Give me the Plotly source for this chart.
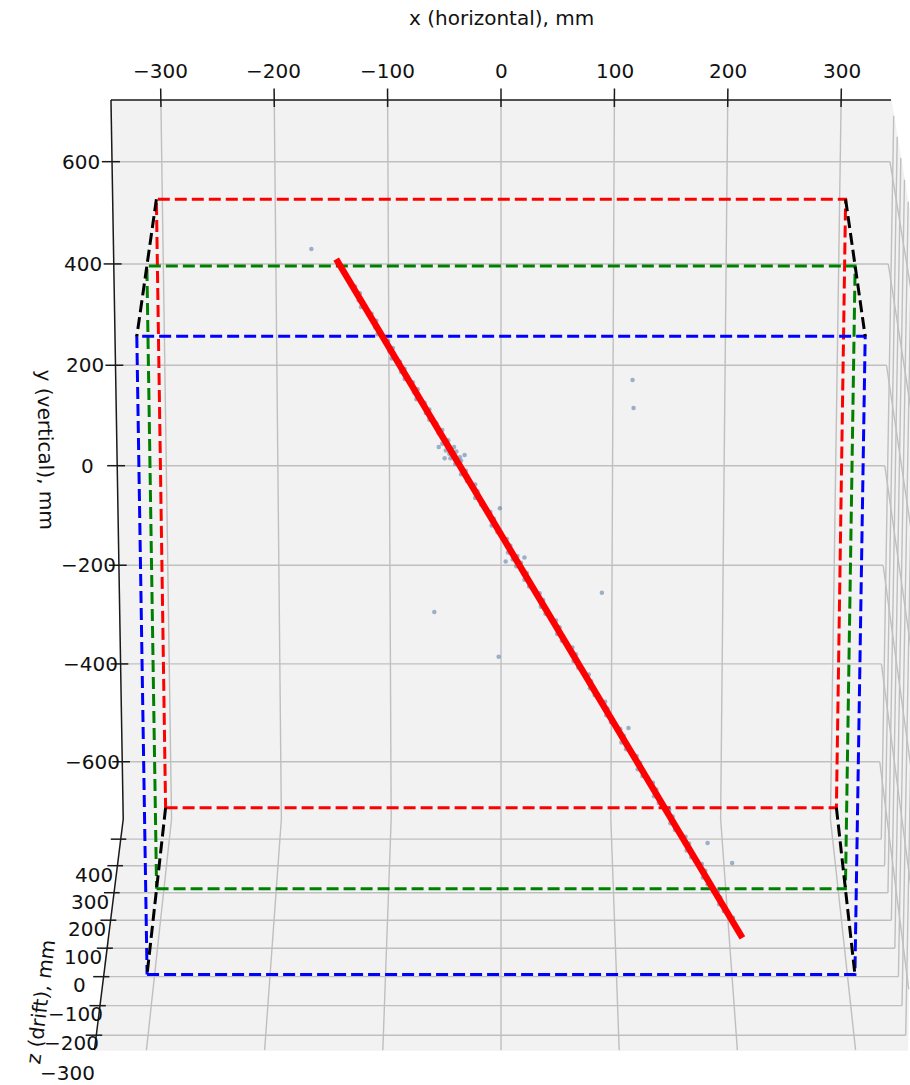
import numpy as np
import plotly.graph_objects as go

# ---------------- data ----------------
X_TICKS = [-300, -200, -100, 0, 100, 200, 300]
Y_TICKS = [-600, -400, -200, 0, 200, 400, 600]
Z_TICKS = [-300, -200, -100, 0, 100, 200, 300, 400]

X_LIM = (-344.0, 344.0)
Y_LIM = (-718.0, 720.0)
Z_LIM = (-350.0, 477.0)          # near (front) .. far (back)

X_TITLE = "x (horizontal), mm"
Y_TITLE = "y (vertical), mm"
Z_TITLE = "z (drift), mm"

DET_X = (-300.0, 300.0)
DET_Y = (-600.0, 600.0)
ANODE_BACK_Z = 300.0
CATHODE_Z = 0.0
ANODE_FRONT_Z = -300.0

FIT_START = (-140.0, 600.0, 30.0)
FIT_END = (207.0, -600.0, -174.0)

HIT_X = [-124, -121, -110, -107, -96, -95, -86, -85, -75, -74, -65, -64, -55, -53,
         -45, -50, -40, -47, -38, -44, -35, -43, -34, -39, -30, -29, -20, -17, -6, -3,
         8, 6, 14, 10, 17, 13, 22, 24, 36, 38, 50, 52, 64, 66, 77, 80, 91, 94, 105,
         107, 119, 121, 133, 135, 147, 149, 161, 163, 175, 177, 188, 191,
         -120, -119, -106, -105, -92, -93, -82, -82, -71, -72, -61, -61, -50,
         -34, -22, -22, -9, -8, 5, 20, 33, 34, 47, 48, 61, 62, 75, 76, 89, 90,
         102, 103, 116, 117, 130, 131, 144, 145, 158, 159, 172, 173, 186, 187, 199,
         -53, -31, -48, 20, 4,
         -161, 112, 113, -57, -2, 86, -1, 109, 177, 198]
HIT_Y = [552, 528, 504, 480, 456, 438, 420, 402, 384, 366, 348, 330, 312, 294,
         282, 276, 270, 264, 262, 258, 252, 250, 246, 240, 228, 210, 192, 168, 144, 120,
         96, 84, 78, 72, 66, 60, 48, 24, 0, -24, -48, -72, -96, -120, -144, -168, -192,
         -216, -240, -264, -288, -312, -336, -360, -384, -408, -432, -456, -480, -504,
         -528, -552,
         540, 516, 492, 468, 444, 426, 408, 390, 372, 354, 336, 318, 300,
         222, 204, 180, 156, 132, 108, 36, 12, -12, -36, -60, -84, -108, -132, -156,
         -180, -204, -228, -252, -276, -300, -324, -348, -372, -396, -420, -444, -468,
         -492, -516, -540, -564,
         270, 256, 250, 75, 68,
         619, 385, 332, -29, -105, 18, 160, -227, -434, -467]
HIT_Z = [22, 18, 14, 10, 5, 2, -1, -4, -7, -10, -13, -16, -19, -22,
         -24, -25, -26, -27, -27, -28, -29, -29, -30, -31, -33, -36, -39, -43, -48, -52,
         -56, -58, -59, -60, -61, -62, -64, -68, -72, -76, -80, -84, -88, -92, -96, -101,
         -105, -109, -113, -117, -121, -125, -129, -133, -137, -141, -145, -150, -154,
         -158, -162, -166,
         20, 16, 12, 8, 4, 0, -3, -6, -9, -12, -15, -18, -21,
         -34, -37, -41, -46, -50, -54, -66, -70, -74, -78, -82, -86, -90, -94, -99,
         -103, -107, -111, -115, -119, -123, -127, -131, -135, -139, -143, -148, -152,
         -156, -160, -164, -168,
         -26, -28, -29, -59, -60,
         30, 0, 0, -60, -80, -80, -40, -110, -140, -150]

# ---------------- camera (perspective view) ----------------
CAM_U0, CAM_KX = 501.0, 1.164
CAM_V0, CAM_VY, CAM_VZ = 581.7, -0.5324, -0.2009
CAM_DY, CAM_DZ = -2.318e-5, 9.08e-5

W, H = 910, 1085
FONT = "DejaVu Sans"
FS = 20


def proj(x, y, z):
    x = np.asarray(x, float)
    y = np.asarray(y, float)
    z = np.asarray(z, float)
    d = 1.0 + CAM_DY * y + CAM_DZ * z
    return CAM_U0 + CAM_KX * x / d, (CAM_V0 + CAM_VY * y + CAM_VZ * z) / d


def segs(segments):
    us, vs = [], []
    for a, b in segments:
        u, v = proj(*zip(a, b))
        us += [float(u[0]), float(u[1]), None]
        vs += [float(v[0]), float(v[1]), None]
    return us, vs


def poly(points):
    u, v = proj(*zip(*points))
    return list(u) + [u[0]], list(v) + [v[0]]


X0, X1 = X_LIM
Y0, Y1 = Y_LIM
ZF, ZB = Z_LIM

fig = go.Figure()

# panes
PANE = "#f2f2f2"
for pts in [
    [(X0, Y0, ZB), (X1, Y0, ZB), (X1, Y1, ZB), (X0, Y1, ZB)],          # back
    [(X0, Y0, ZF), (X1, Y0, ZF), (X1, Y0, ZB), (X0, Y0, ZB)],          # floor
    [(X1, Y0, ZF), (X1, Y1, ZF), (X1, Y1, ZB), (X1, Y0, ZB)],          # right
]:
    u, v = poly(pts)
    fig.add_trace(go.Scatter(x=u, y=v, mode="lines", fill="toself", fillcolor=PANE,
                             line=dict(color=PANE, width=1), hoverinfo="skip"))

# grid
grid = []
for x in X_TICKS:
    grid.append(((x, Y0, ZB), (x, Y1, ZB)))
    grid.append(((x, Y0, ZF), (x, Y0, ZB)))
for y in Y_TICKS:
    grid.append(((X0, y, ZB), (X1, y, ZB)))
    grid.append(((X1, y, ZF), (X1, y, ZB)))
for z in Z_TICKS:
    grid.append(((X0, Y0, z), (X1, Y0, z)))
    grid.append(((X1, Y0, z), (X1, Y1, z)))
u, v = segs(grid)
fig.add_trace(go.Scatter(x=u, y=v, mode="lines", line=dict(color="#bfbfbf", width=1.4),
                         hoverinfo="skip"))

# axis lines and ticks
axes = [((X0, Y1, ZB), (X1, Y1, ZB)),
        ((X0, Y0, ZB), (X0, Y1, ZB)),
        ((X0, Y0, ZB), (X0, Y0, ZF))]
for x in X_TICKS:
    axes.append(((x, Y1 - 14, ZB), (x, Y1 + 22, ZB)))
for y in Y_TICKS:
    axes.append(((X0 - 9, y, ZB), (X0 + 7, y, ZB)))
for z in Z_TICKS:
    axes.append(((X0 - 9, Y0, z), (X0 + 5, Y0, z)))
u, v = segs(axes)
fig.add_trace(go.Scatter(x=u, y=v, mode="lines", line=dict(color="#1a1a1a", width=1.5),
                         hoverinfo="skip"))

# detector volume
DASH = "12px,5px"
for zc, col in [(ANODE_BACK_Z, "#ff0000"), (CATHODE_Z, "#008000"), (ANODE_FRONT_Z, "#0000ff")]:
    pts = [(DET_X[0], DET_Y[0], zc), (DET_X[1], DET_Y[0], zc),
           (DET_X[1], DET_Y[1], zc), (DET_X[0], DET_Y[1], zc)]
    u, v = poly(pts)
    fig.add_trace(go.Scatter(x=u, y=v, mode="lines",
                             line=dict(color=col, width=3, dash=DASH), hoverinfo="skip"))
edges = []
for xc in DET_X:
    for yc in DET_Y:
        edges.append(((xc, yc, ANODE_BACK_Z), (xc, yc, ANODE_FRONT_Z)))
u, v = segs(edges)
fig.add_trace(go.Scatter(x=u, y=v, mode="lines",
                         line=dict(color="#000000", width=3, dash=DASH), hoverinfo="skip"))

# hits
hu, hv = proj(HIT_X, HIT_Y, HIT_Z)
fig.add_trace(go.Scatter(x=hu, y=hv, mode="markers",
                         marker=dict(size=4.5, color="rgba(80,120,170,0.55)", line=dict(width=0)),
                         hoverinfo="skip"))

# fitted track
fu, fv = proj(*zip(FIT_START, FIT_END))
fig.add_trace(go.Scatter(x=fu, y=fv, mode="lines", line=dict(color="#ff0000", width=6.5),
                         hoverinfo="skip"))

# text
ann = []


def text(pt, s, angle=0):
    u, v = proj(*pt)
    ann.append(dict(x=float(u), y=float(v), xref="x", yref="y", text=s, showarrow=False,
                    xanchor="center", yanchor="middle", textangle=angle,
                    font=dict(family=FONT, size=FS, color="#111111")))


def lab(n):
    return str(n).replace("-", "\u2212")


for x in X_TICKS:
    text((x, Y1 + 56, ZB), lab(x))
for y in Y_TICKS:
    text((X0 - 27, y, ZB), lab(y))
for z in Z_TICKS:
    text((X0 - 25, Y0 - 74, z), lab(z))
text((0, Y1 + 158, ZB), X_TITLE)
text((X0 - 64, 31, ZB), Y_TITLE, 89)
text((X0 - 63, Y0 - 160, 92), Z_TITLE, -83)

fig.update_layout(
    width=W, height=H, margin=dict(l=0, r=0, t=0, b=0),
    paper_bgcolor="white", plot_bgcolor="white", showlegend=False,
    xaxis=dict(range=[0, W], visible=False, fixedrange=True),
    yaxis=dict(range=[H, 0], visible=False, fixedrange=True),
    annotations=ann,
)
fig.write_html("out.html")
